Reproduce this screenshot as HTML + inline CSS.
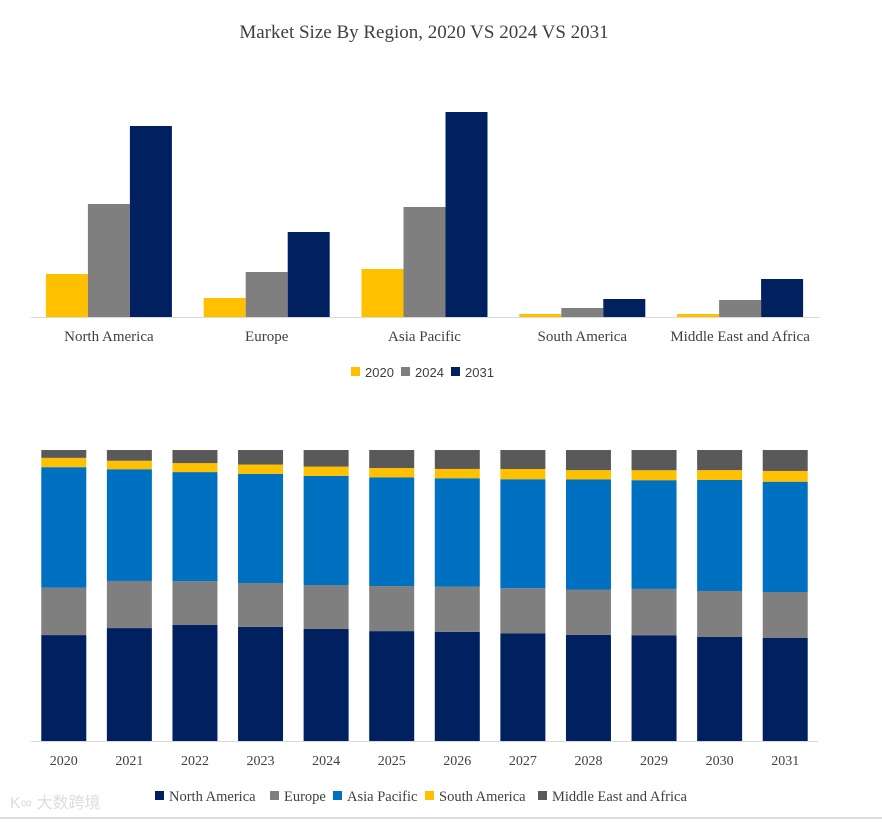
<!DOCTYPE html>
<html><head><meta charset="utf-8"><style>
body{margin:0;background:#fff;width:882px;height:820px;overflow:hidden;font-family:"Liberation Serif",serif}
</style></head><body>
<svg id="c" width="882" height="820" style="font-family:'Liberation Serif',serif">
<text x="424" y="38" text-anchor="middle" font-size="19" fill="#404040">Market Size By Region, 2020 VS 2024 VS 2031</text>
<line x1="0" y1="818" x2="882" y2="818" stroke="#d8dde2" stroke-width="2"/>
<text x="10" y="808" font-size="16" fill="#ddd" style="font-family:'Liberation Sans','Noto Sans CJK SC',sans-serif">K∞ 大数跨境</text>
</svg>
<script>
const regions=["North America","Europe","Asia Pacific","South America","Middle East and Africa"];
const groupYears=["2020","2024","2031"];
const v2020=[43,19,48,3,3];
const v2024=[113,45,110,9,17];
const v2031=[191,85,205,18,38];
const years=["2020","2021","2022","2023","2024","2025","2026","2027","2028","2029","2030","2031"];
const sNA=[36.4,38.8,39.9,39.2,38.5,37.8,37.5,36.8,36.4,36.1,35.7,35.4];
const sEU=[16.3,16.2,15.1,15.1,15.1,15.5,15.5,15.5,15.5,15.8,15.8,15.8];
const sAP=[41.4,38.4,37.5,37.5,37.5,37.4,37.2,37.3,37.7,37.1,38.1,37.9];
const sSA=[3.2,2.9,3.1,3.2,3.2,3.2,3.2,3.5,3.2,3.4,3.4,3.7];
const sME=[2.7,3.7,4.5,5.0,5.7,6.2,6.5,6.5,6.9,6.9,6.9,7.2];
const NS="http://www.w3.org/2000/svg",svg=document.getElementById('c');
function mk(t,a,txt){const e=document.createElementNS(NS,t);for(const k in a)e.setAttribute(k,a[k]);if(txt!==undefined)e.textContent=txt;svg.appendChild(e);return e;}
const gc=["#ffc000","#7f7f7f","#002060"],gser=[v2020,v2024,v2031];
const tX0=31,tX1=820,tBase=317,tScale=1.0;
const tCat=(tX1-tX0)/regions.length;
const ty=v=>tBase-v*tScale;
regions.forEach((r,i)=>{
 const cx=tX0+tCat*(i+0.5)-1;
 gser.forEach((s,j)=>{
  const e=mk('rect',{x:cx-63+j*42,y:ty(s[i]),width:42,height:tBase-ty(s[i]),fill:gc[j]});
  
  
 });
 const t=mk('text',{x:cx,y:341,'text-anchor':'middle','font-size':15,fill:'#404040'},r);
 
 
});
let ax=mk('line',{x1:tX0,y1:tBase+0.5,x2:tX1,y2:tBase+0.5,stroke:'#d9d9d9'});


let lx=351;
groupYears.forEach((y,j)=>{
 const r=mk('rect',{x:lx,y:367,width:9,height:9,fill:gc[j]});
 
 
 const t=mk('text',{x:lx+14,y:377,'font-size':13,fill:'#404040',style:"font-family:'Liberation Sans',sans-serif"},y);
 
 
 lx+=50;
});
const sc=["#002060","#7f7f7f","#0070c0","#ffc000","#595959"],sser=[sNA,sEU,sAP,sSA,sME];
const bX0=31,bX1=818,bBase=741,bTop=450;
const bCat=(bX1-bX0)/years.length;
years.forEach((y,i)=>{
 const tot=sser.reduce((a,s)=>a+s[i],0);
 let acc=0;
 const cx=bX0+bCat*(i+0.5);
 sser.forEach((s,j)=>{
  const y0=bBase-(acc/tot)*(bBase-bTop);acc+=s[i];
  const y1=bBase-(acc/tot)*(bBase-bTop);
  const e=mk('rect',{x:cx-22.5,y:y1,width:45,height:y0-y1,fill:sc[j]});
  
  
 });
 const t=mk('text',{x:cx,y:765,'text-anchor':'middle','font-size':14,fill:'#404040'},y);
 
 
});
ax=mk('line',{x1:bX0,y1:bBase+0.5,x2:bX1,y2:bBase+0.5,stroke:'#d9d9d9'});


const lpos=[155,270,333,425,538];
regions.forEach((r,j)=>{
 const s=mk('rect',{x:lpos[j],y:791,width:9,height:9,fill:sc[j]});
 
 
 const t=mk('text',{x:lpos[j]+14,y:801,'font-size':14.5,fill:'#404040'},r);
 
 
});
</script>
</body></html>
